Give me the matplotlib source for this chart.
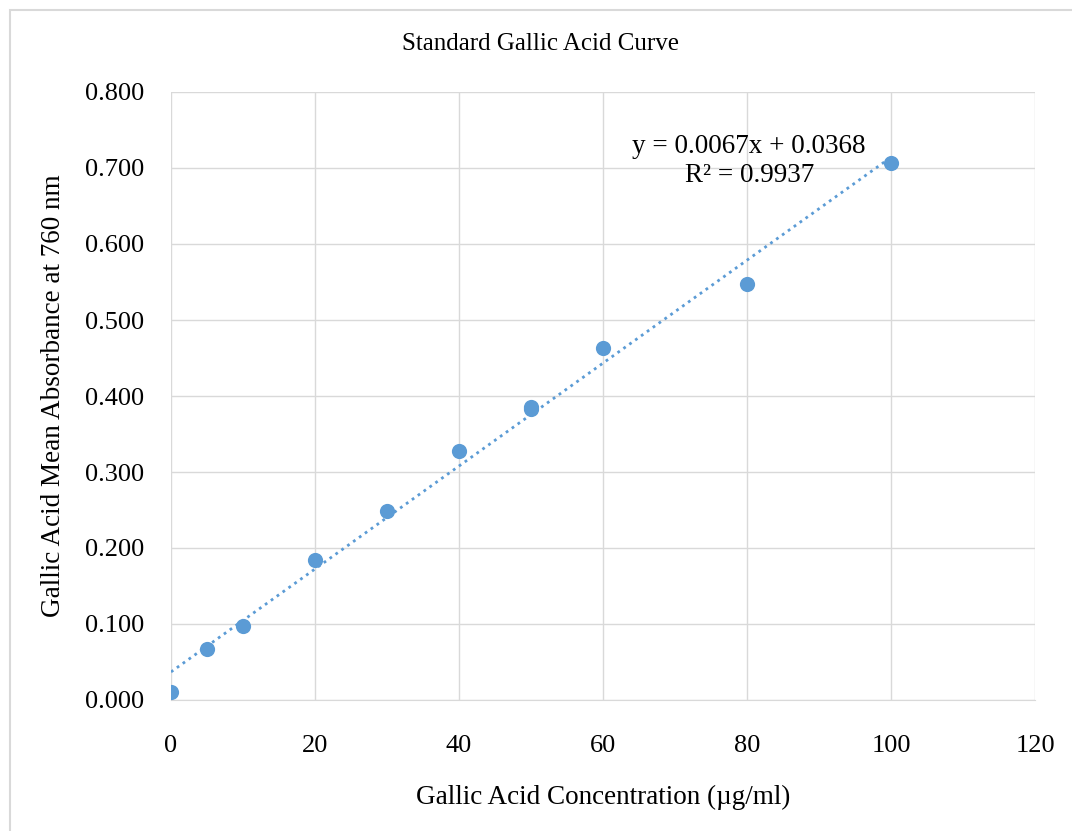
import numpy as np
import matplotlib
matplotlib.use("Agg")
import matplotlib.pyplot as plt
from matplotlib.patches import Rectangle

concentration = [0, 5, 10, 20, 30, 40, 50, 50, 60, 80, 100]
absorbance = [0.010, 0.067, 0.097, 0.184, 0.249, 0.327, 0.383, 0.386, 0.463, 0.547, 0.707]
x_ticks = [0, 20, 40, 60, 80, 100, 120]
y_ticks = [0.0, 0.1, 0.2, 0.3, 0.4, 0.5, 0.6, 0.7, 0.8]
equation_text = "y = 0.0067x + 0.0368\nR² = 0.9937"
title = "Standard Gallic Acid Curve"
xlabel = "Gallic Acid Concentration (µg/ml)"
ylabel = "Gallic Acid Mean Absorbance at 760 nm"

plt.rcParams['font.family'] = ['Liberation Serif', 'DejaVu Serif']
blue = '#5b9bd5'
grid_c = '#d9d9d9'

fig = plt.figure(figsize=(10.72, 8.31), dpi=100)
fig.patches.append(Rectangle((10/1072, -0.01), 1.02, 1.01 - 10/831, transform=fig.transFigure,
                             fill=False, edgecolor='#d9d9d9', linewidth=1.5))
ax = fig.add_axes([171/1072, 1 - 700/831, (1035-171)/1072, (700-92)/831])

ax.scatter(concentration, absorbance, s=120, color=blue, zorder=3, linewidths=0)
coef = np.polyfit(concentration, absorbance, 1)
xs = np.array([0, max(concentration)])
ax.plot(xs, np.polyval(coef, xs), linestyle=(0, (1, 1.6)), color=blue, linewidth=2, zorder=2)

ax.set_xlim(0, 120)
ax.set_ylim(0, 0.8)
ax.set_xticks(x_ticks)
ax.set_yticks(y_ticks)
ax.set_yticklabels([f"{v:.3f}" for v in y_ticks])
ax.grid(True, color=grid_c, linewidth=1)
ax.set_axisbelow(True)
for s in ['top', 'right', 'left']:
    ax.spines[s].set_visible(False)
ax.spines['bottom'].set_color(grid_c)
ax.tick_params(length=0, labelsize=19)
ax.tick_params(axis='x', pad=25)
ax.tick_params(axis='y', pad=19)

fig.text(541/1072, 1 - 44/831, title, fontsize=18, ha='center', va='center')
ax.set_xlabel(xlabel, fontsize=19.5, labelpad=20)
ax.set_ylabel(ylabel, fontsize=19.5, labelpad=14)

ax.text(80.3, 0.709, equation_text, ha='center', va='center', fontsize=19.5, linespacing=1.2)

fig.savefig("out.png", dpi=100)
